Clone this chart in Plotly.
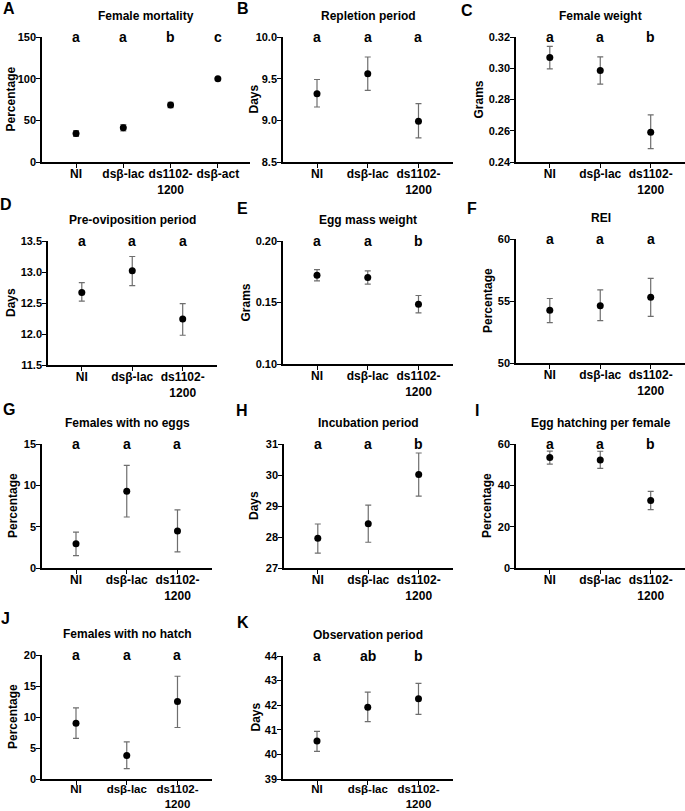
import plotly.graph_objects as go

# ---------------- data ----------------
cats3 = ["NI", "dsβ-lac", "ds1102-<br>1200"]
cats4 = ["NI", "dsβ-lac", "ds1102-<br>1200", "dsβ-act"]

A_mean = [34.2, 41.0, 68.4, 100.0]
A_err = [3.5, 3.8, 3.3, 0.0]
A_sig = ["a", "a", "b", "c"]

B_mean = [9.32, 9.56, 8.99]
B_up = [9.49, 9.76, 9.20]
B_lo = [9.16, 9.36, 8.79]
B_sig = ["a", "a", "a"]

C_mean = [0.3069, 0.2985, 0.2591]
C_up = [0.3140, 0.3073, 0.2702]
C_lo = [0.2996, 0.2898, 0.2486]
C_sig = ["a", "a", "b"]

D_mean = [12.67, 13.02, 12.24]
D_up = [12.83, 13.25, 12.49]
D_lo = [12.53, 12.78, 11.98]
D_sig = ["a", "a", "a"]

E_mean = [0.1722, 0.1703, 0.1486]
E_up = [0.1768, 0.1757, 0.1557]
E_lo = [0.1676, 0.1649, 0.1416]
E_sig = ["a", "a", "b"]

F_mean = [54.25, 54.62, 55.30]
F_up = [55.20, 55.89, 56.83]
F_lo = [53.25, 53.41, 53.76]
F_sig = ["a", "a", "a"]

G_mean = [2.94, 9.27, 4.48]
G_up = [4.35, 12.42, 7.02]
G_lo = [1.49, 6.17, 1.94]
G_sig = ["a", "a", "a"]

H_mean = [27.96, 28.43, 30.02]
H_up = [28.42, 29.03, 30.71]
H_lo = [27.48, 27.83, 29.32]
H_sig = ["a", "a", "b"]

I_mean = [53.5, 52.3, 32.7]
I_up = [56.6, 56.5, 37.1]
I_lo = [50.3, 48.2, 28.2]
I_sig = ["a", "a", "b"]

J_mean = [9.0, 3.81, 12.49]
J_up = [11.47, 6.00, 16.57]
J_lo = [6.54, 1.66, 8.31]
J_sig = ["a", "a", "a"]

K_mean = [40.54, 41.92, 42.26]
K_up = [40.94, 42.53, 42.89]
K_lo = [40.12, 41.33, 41.63]
K_sig = ["a", "ab", "b"]

W, H = 685, 811
FONT = "Liberation Sans, Arial, sans-serif"


def px_x(v):
    return v / W


def px_y(v):
    return 1 - v / H


# letter, title, y-title, categories, mean, upper, lower, letters, y-range, dtick, format,
# plot box (px): x0, x1, y0, y1, y-title centre x (px)
panels = [
    ("A", "Female mortality", "Percentage", cats4, A_mean,
     [m + e for m, e in zip(A_mean, A_err)], [m - e for m, e in zip(A_mean, A_err)],
     A_sig, [0, 150], 50, "d", 42, 250, 37, 162, 11),
    ("B", "Repletion period", "Days", cats3, B_mean, B_up, B_lo, B_sig, [8.5, 10.0], 0.5, ".1f", 283, 453, 37, 162, 254),
    ("C", "Female weight", "Grams", cats3, C_mean, C_up, C_lo, C_sig, [0.24, 0.32], 0.02, ".2f", 516, 685, 37, 162, 479),
    ("D", "Pre-oviposition period", "Days", cats3, D_mean, D_up, D_lo, D_sig, [11.5, 13.5], 0.5, ".1f", 48, 217, 241, 365, 11),
    ("E", "Egg mass weight", "Grams", cats3, E_mean, E_up, E_lo, E_sig, [0.10, 0.20], 0.05, ".2f", 283, 453, 241, 364, 245),
    ("F", "REI", "Percentage", cats3, F_mean, F_up, F_lo, F_sig, [50, 60], 5, "d", 516, 685, 239, 363, 488),
    ("G", "Females with no eggs", "Percentage", cats3, G_mean, G_up, G_lo, G_sig, [0, 15], 5, "d", 42, 212, 444, 568, 13),
    ("H", "Incubation period", "Days", cats3, H_mean, H_up, H_lo, H_sig, [27, 31], 1, "d", 284, 453, 444, 568, 254),
    ("I", "Egg hatching per female", "Percentage", cats3, I_mean, I_up, I_lo, I_sig, [0, 60], 20, "d", 516, 685, 444, 568, 487),
    ("J", "Females with no hatch", "Percentage", cats3, J_mean, J_up, J_lo, J_sig, [0, 20], 5, "d", 42, 212, 655, 779, 13),
    ("K", "Observation period", "Days", cats3, K_mean, K_up, K_lo, K_sig, [39, 44], 1, "d", 283, 453, 656, 779, 255),
]

letter_pos = {"A": (9, 9), "B": (243, 9), "C": (467, 10),
              "D": (6, 204), "E": (242, 208), "F": (472, 208),
              "G": (9, 409), "H": (242, 410), "I": (477, 410),
              "J": (5, 618), "K": (243, 622)}

try:
    go.layout.XAxis(ticklabelstandoff=-4)
    NEG_OK = True
except Exception:
    NEG_OK = False

fig = go.Figure()
annotations = []
layout = {}
for i, (let, title, ytitle, cats, mean, up, lo, sig, yr, dt, fmt, x0, x1, y0, y1, ytx) in enumerate(panels):
    n = i + 1
    xa = "x" if n == 1 else f"x{n}"
    ya = "y" if n == 1 else f"y{n}"
    idx = list(range(len(cats)))
    bottom_row = y1 > 700
    fig.add_trace(go.Scatter(
        x=idx, y=mean, mode="markers", xaxis=xa, yaxis=ya,
        marker=dict(color="black", size=7),
        error_y=dict(type="data", symmetric=False,
                     array=[u - m for u, m in zip(up, mean)],
                     arrayminus=[m - l for m, l in zip(mean, lo)],
                     color="#6e6e6e", thickness=1.2, width=3),
        showlegend=False, cliponaxis=False, hoverinfo="skip"))
    xr = [-0.72, 3.68] if len(cats) == 4 else [-0.67, 2.68]
    xaxis = dict(
        domain=[px_x(x0), min(px_x(x1), 1.0)], anchor=ya, range=xr,
        tickmode="array", tickvals=idx, ticktext=cats, automargin=False,
        showline=True, linecolor="black", linewidth=1.5,
        ticks="outside", ticklen=4, tickwidth=1.2, tickcolor="black",
        showgrid=False, zeroline=False, fixedrange=True,
        tickfont=dict(family=FONT, size=11.5 if bottom_row else 12, color="black", weight="bold"))
    yaxis = dict(
        domain=[px_y(y1), px_y(y0)], anchor=xa, range=yr, automargin=False,
        dtick=dt, tick0=yr[0], tickformat=fmt,
        showline=True, linecolor="black", linewidth=1.5,
        ticks="outside", ticklen=4, tickwidth=1.2, tickcolor="black",
        showgrid=False, zeroline=False, fixedrange=True,
        tickfont=dict(family=FONT, size=11, color="black", weight="bold"))
    if NEG_OK:
        xaxis["ticklabelstandoff"] = -6 if bottom_row else -4
        yaxis["ticklabelstandoff"] = -2
    layout["xaxis" if n == 1 else f"xaxis{n}"] = xaxis
    layout["yaxis" if n == 1 else f"yaxis{n}"] = yaxis
    annotations.append(dict(x=px_x(ytx), y=px_y((y0 + y1) / 2), xref="paper", yref="paper",
                            text=ytitle, textangle=-90, showarrow=False,
                            xanchor="center", yanchor="middle",
                            font=dict(family=FONT, size=12, color="black", weight="bold")))
    for k, s in enumerate(sig):
        annotations.append(dict(x=k, y=yr[1], xref=xa, yref=ya, text=s,
                                showarrow=False, yanchor="middle",
                                font=dict(family=FONT, size=14, color="black", weight="bold")))
    annotations.append(dict(x=px_x((x0 + x1) / 2), y=px_y(y0 - 21), xref="paper", yref="paper",
                            text=title, showarrow=False, yanchor="middle", xanchor="center",
                            font=dict(family=FONT, size=12, color="black", weight="bold")))
    lx, ly = letter_pos[let]
    annotations.append(dict(x=px_x(lx), y=px_y(ly), xref="paper", yref="paper",
                            text=let, showarrow=False, xanchor="center", yanchor="middle",
                            font=dict(family=FONT, size=16, color="black", weight="bold")))

fig.update_layout(width=W, height=H, margin=dict(l=0, r=0, t=0, b=0, pad=0),
                  paper_bgcolor="white", plot_bgcolor="white",
                  annotations=annotations, **layout)
# remove the default 8px page margin so the figure fills the window exactly
fig.write_html("out.html", config={"displayModeBar": False},
               post_script="document.body.style.margin='0';document.body.style.overflow='hidden';")
